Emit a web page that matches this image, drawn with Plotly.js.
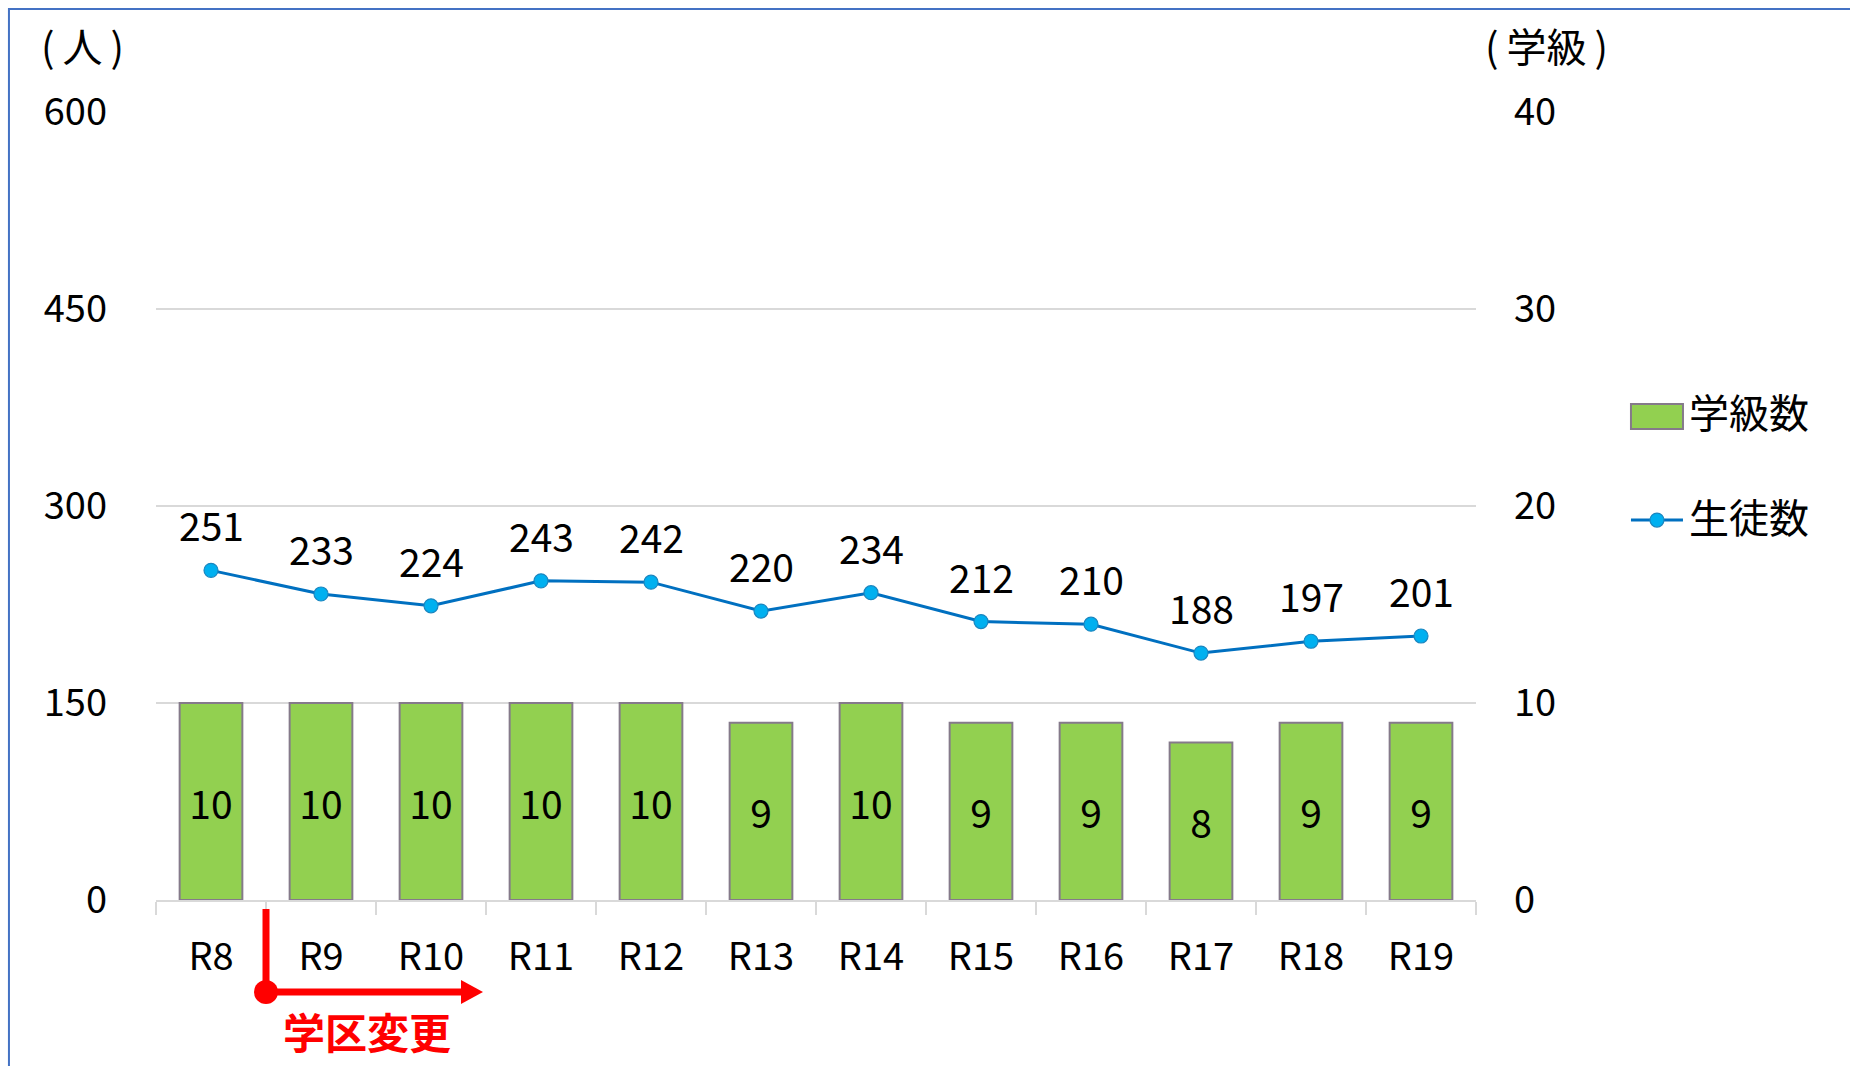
<!DOCTYPE html>
<html>
<head>
<meta charset="utf-8">
<script src="https://cdn.plot.ly/plotly-3.0.1.min.js"></script>
<style>
html,body{margin:0;padding:0;background:#fff;}
#chart{width:1850px;height:1066px;}
</style>
</head>
<body>
<div id="chart"></div>
<script>
const categories = ['R8','R9','R10','R11','R12','R13','R14','R15','R16','R17','R18','R19'];
const students = [251,233,224,243,242,220,234,212,210,188,197,201];
const classes = [10,10,10,10,10,9,10,9,9,8,9,9];
const leftTicks = [0,150,300,450,600];
const rightTicks = [0,10,20,30,40];
const seriesNames = ['学級数','生徒数'];
const leftUnit = '(\u2009人\u2009)';
const rightUnit = '(\u2009学級\u2009)';
const noteText = '学区変更';

const FONT = '"Noto Sans CJK JP", "Noto Sans", sans-serif';
const BAR_FILL = '#92D050';
const BAR_LINE = '#857a8a';
const LINE_COLOR = '#0070C0';
const MARKER_FILL = '#00B0F0';
const GRID = '#d9d9d9';
const RED = '#FF0000';

const barTrace = {
  type: 'bar', x: categories, y: classes, yaxis: 'y2', name: seriesNames[0],
  marker: {color: BAR_FILL, line: {color: BAR_LINE, width: 2}},
  text: classes.map(String), textposition: 'inside', insidetextanchor: 'middle',
  textfont: {family: FONT, size: 39, color: '#000'}, constraintext: 'none',
  hoverinfo: 'skip', showlegend: false
};
const lineTrace = {
  type: 'scatter', mode: 'lines+markers', x: categories, y: students, yaxis: 'y', name: seriesNames[1],
  line: {color: LINE_COLOR, width: 3},
  marker: {color: MARKER_FILL, size: 14, line: {color: '#1b86bf', width: 1.2}},
  hoverinfo: 'skip', showlegend: false
};

const labelAnns = categories.map((c, i) => ({
  x: c, y: students[i], xref: 'x', yref: 'y', text: String(students[i]),
  yshift: 46, showarrow: false, font: {family: FONT, size: 39, color: '#000'}
}));

const otherAnns = [
  {xref: 'paper', yref: 'paper', x: -0.0886, y: 1.0850, xanchor: 'left', yanchor: 'middle',
   text: leftUnit, showarrow: false, font: {family: FONT, size: 40, color: '#000'}},
  {xref: 'paper', yref: 'paper', x: 1.0053, y: 1.0850, xanchor: 'left', yanchor: 'middle',
   text: rightUnit, showarrow: false, font: {family: FONT, size: 40, color: '#000'}},
  {xref: 'paper', yref: 'paper', x: 1.1599, y: 0.6200, xanchor: 'left', yanchor: 'middle',
   text: seriesNames[0], showarrow: false, font: {family: FONT, size: 40, color: '#000'}},
  {xref: 'paper', yref: 'paper', x: 1.1599, y: 0.4867, xanchor: 'left', yanchor: 'middle',
   text: seriesNames[1], showarrow: false, font: {family: FONT, size: 40, color: '#000'}},
  {xref: 'x', yref: 'paper', x: 1.414, y: -0.1650, xanchor: 'center', yanchor: 'middle',
   text: '<b>' + noteText + '</b>', showarrow: false, font: {family: FONT, size: 42, color: RED}}
];

const arrowY = -0.1168;
const shapes = [
  {type: 'rect', xref: 'paper', yref: 'paper', x0: -0.1114, x1: 1.6, y0: -0.5, y1: 1.1307,
   line: {color: '#4472C4', width: 2}, fillcolor: 'rgba(0,0,0,0)', layer: 'below'},
  {type: 'rect', xref: 'paper', yref: 'paper', x0: 1.1174, x1: 1.1568, y0: 0.5977, y1: 0.6294,
   line: {color: BAR_LINE, width: 2}, fillcolor: BAR_FILL},
  {type: 'line', xref: 'paper', yref: 'paper', x0: 1.1174, x1: 1.1568, y0: 0.4822, y1: 0.4822,
   line: {color: LINE_COLOR, width: 3}},
  {type: 'circle', xref: 'paper', yref: 'paper', xsizemode: 'pixel', ysizemode: 'pixel',
   xanchor: 1.1371, yanchor: 0.4822, x0: -7, x1: 7, y0: -7, y1: 7,
   line: {color: '#1b86bf', width: 1.2}, fillcolor: MARKER_FILL},
  {type: 'line', xref: 'x', yref: 'paper', x0: 0.5, x1: 0.5, y0: -0.0114, y1: arrowY,
   line: {color: RED, width: 7}},
  {type: 'line', xref: 'x', yref: 'paper', x0: 0.5, x1: 2.30, y0: arrowY, y1: arrowY,
   line: {color: RED, width: 7}},
  {type: 'circle', xref: 'x', yref: 'paper', xsizemode: 'pixel', ysizemode: 'pixel',
   xanchor: 0.5, yanchor: arrowY, x0: -12, x1: 12, y0: -12, y1: 12,
   line: {color: RED, width: 0}, fillcolor: RED},
  {type: 'path', xref: 'x', yref: 'paper', xsizemode: 'pixel', ysizemode: 'pixel',
   xanchor: 2.4727, yanchor: arrowY, path: 'M0,0 L-22,12 L-22,-12 Z',
   line: {color: RED, width: 0}, fillcolor: RED}
];

const layout = {
  width: 1850, height: 1066,
  margin: {l: 156, r: 374, t: 112, b: 166},
  paper_bgcolor: '#fff', plot_bgcolor: '#fff',
  font: {family: FONT, size: 38, color: '#000'},
  bargap: 0.43,
  showlegend: false,
  xaxis: {
    type: 'category', range: [-0.5, 11.5], tickson: 'boundaries',
    ticks: 'outside', ticklen: 13, tickwidth: 1.5, tickcolor: GRID,
    showline: true, linecolor: GRID, linewidth: 1.5, showgrid: false,
    tickfont: {family: FONT, size: 38, color: '#000'}, ticklabelstandoff: 23
  },
  yaxis: {
    range: [0, 600], tickvals: leftTicks, ticktext: leftTicks.map(String),
    showgrid: true, gridcolor: GRID, gridwidth: 1.5, zeroline: false, showline: false,
    ticks: '', tickfont: {family: FONT, size: 38, color: '#000'}, ticklabelstandoff: 48
  },
  yaxis2: {
    range: [0, 40], overlaying: 'y', side: 'right', tickvals: rightTicks, ticktext: rightTicks.map(String),
    showgrid: false, zeroline: false, showline: false, ticks: '',
    tickfont: {family: FONT, size: 38, color: '#000'}, ticklabelstandoff: 37
  },
  annotations: labelAnns.concat(otherAnns),
  shapes: shapes
};

Plotly.newPlot('chart', [barTrace, lineTrace], layout, {displayModeBar: false, staticPlot: true});
</script>
</body>
</html>
